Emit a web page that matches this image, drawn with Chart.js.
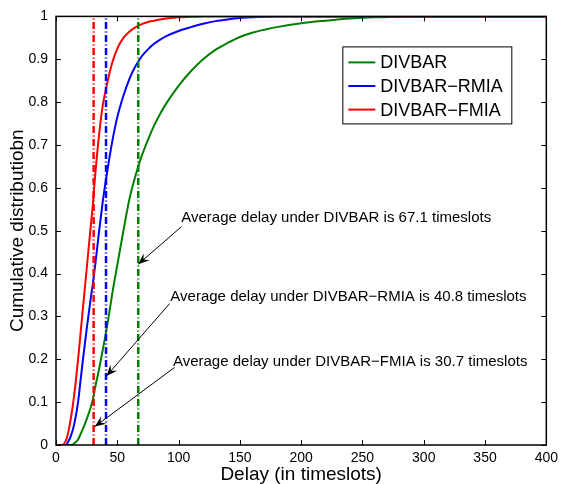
<!DOCTYPE html>
<html>
<head>
<meta charset="utf-8">
<script src="https://cdn.jsdelivr.net/npm/chart.js@4"></script>
<style>
  body { margin: 0; background: #fff; }
  canvas { display: block; }
</style>
</head>
<body>
<canvas id="cdf" width="563" height="484"></canvas>
<script>
// delay grid (timeslots) and CDF values
const delayX = [0, 5, 8, 10, 12, 15, 18, 20, 22, 25, 28, 30, 32, 35, 38, 40, 43, 46, 50, 55,
  60, 65, 70, 75, 80, 85, 90, 100, 110, 120, 130, 140, 150, 160, 170, 180, 200, 220, 240, 260,
  280, 300, 350, 400];
const divbarCdf = [0, 0, 0, 0, 0, 0.004, 0.013, 0.025, 0.038, 0.06, 0.085, 0.105, 0.135, 0.175, 0.22,
  0.25, 0.3, 0.355, 0.42, 0.5, 0.575, 0.63, 0.675, 0.712, 0.745, 0.773, 0.797, 0.838, 0.872, 0.9,
  0.922, 0.938, 0.952, 0.962, 0.969, 0.975, 0.984, 0.99, 0.995, 0.998, 0.999, 1, 1, 1];
const rmiaCdf = [0, 0, 0, 0.008, 0.02, 0.05, 0.1, 0.15, 0.2, 0.27, 0.335, 0.375, 0.42, 0.495, 0.565,
  0.605, 0.66, 0.71, 0.765, 0.815, 0.855, 0.885, 0.907, 0.923, 0.936, 0.946, 0.954, 0.966, 0.975, 0.983,
  0.989, 0.993, 0.996, 0.998, 0.999, 0.9995, 1, 1, 1, 1, 1, 1, 1, 1];
const fmiaCdf = [0, 0, 0.01, 0.03, 0.06, 0.12, 0.2, 0.26, 0.32, 0.41, 0.5, 0.56, 0.63, 0.72, 0.79,
  0.82, 0.86, 0.893, 0.925, 0.95, 0.965, 0.975, 0.982, 0.987, 0.99, 0.993, 0.995, 0.998, 0.999, 1,
  1, 1, 1, 1, 1, 1, 1, 1, 1, 1, 1, 1, 1, 1];

const seriesNames = ['DIVBAR', 'DIVBAR\u2212RMIA', 'DIVBAR\u2212FMIA'];
const averageDelay = [67.1, 40.8, 30.7];
const xTicks = [0, 50, 100, 150, 200, 250, 300, 350, 400];
const yTicks = [0, 0.1, 0.2, 0.3, 0.4, 0.5, 0.6, 0.7, 0.8, 0.9, 1];
const yTickLabels = ['0', '0.1', '0.2', '0.3', '0.4', '0.5', '0.6', '0.7', '0.8', '0.9', '1'];

const colors = ['#008000', '#0000ff', '#ff0000'];
const FONT = '"Liberation Sans", Arial, Helvetica, sans-serif';

// text + arrow annotations, placed in data coordinates
const notes = [
  { text: 'Average delay under DIVBAR is 67.1 timeslots', at: [102.2, 0.530], tail: [102.2, 0.509], tip: [67.1, 0.422] },
  { text: 'Average delay under DIVBAR\u2212RMIA is 40.8 timeslots', at: [93.3, 0.345], tail: [92.7, 0.330], tip: [41.2, 0.161] },
  { text: 'Average delay under DIVBAR\u2212FMIA is 30.7 timeslots', at: [95.4, 0.193], tail: [96.7, 0.181], tip: [31.7, 0.043] }
];

const curves = [divbarCdf, rmiaCdf, fmiaCdf].map((vals, i) => ({
  label: seriesNames[i],
  data: delayX.map((x, j) => ({ x: x, y: vals[j] })),
  borderColor: colors[i],
  borderWidth: 2,
  pointRadius: 0,
  fill: false,
  cubicInterpolationMode: 'monotone',
  order: 3 - i
}));

const avgLines = averageDelay.map((d, i) => ({
  label: 'avg ' + seriesNames[i],
  data: [{ x: d, y: 0 }, { x: d, y: 1 }],
  borderColor: colors[i],
  borderWidth: 2.5,
  borderDash: [7, 2.5, 1, 2.5],
  pointRadius: 0,
  fill: false,
  order: 0
}));

// box frame with inward ticks on all four sides (matlab style)
const frame = {
  id: 'frame',
  afterDatasetsDraw(chart) {
    const { ctx, chartArea: a, scales: { x, y } } = chart;
    ctx.save();
    ctx.strokeStyle = '#000';
    ctx.lineWidth = 1;
    ctx.beginPath();
    x.ticks.forEach(t => {
      const px = Math.round(x.getPixelForValue(t.value)) + 0.5;
      ctx.moveTo(px, a.bottom); ctx.lineTo(px, a.bottom - 5);
      ctx.moveTo(px, a.top); ctx.lineTo(px, a.top + 5);
    });
    y.ticks.forEach(t => {
      const py = Math.round(y.getPixelForValue(t.value)) + 0.5;
      ctx.moveTo(a.left, py); ctx.lineTo(a.left + 5, py);
      ctx.moveTo(a.right, py); ctx.lineTo(a.right - 5, py);
    });
    ctx.stroke();
    ctx.lineWidth = 1.5;
    ctx.strokeRect(a.left, a.top, a.right - a.left, a.bottom - a.top);
    ctx.restore();
  }
};

function drawArrow(ctx, x0, y0, x1, y1) {
  const ang = Math.atan2(y1 - y0, x1 - x0);
  ctx.beginPath();
  ctx.moveTo(x0, y0);
  ctx.lineTo(x1, y1);
  ctx.stroke();
  ctx.save();
  ctx.translate(x1, y1);
  ctx.rotate(ang);
  ctx.beginPath();
  ctx.moveTo(0, 0);
  ctx.lineTo(-11, -4.5);
  ctx.lineTo(-7, 0);
  ctx.lineTo(-11, 4.5);
  ctx.closePath();
  ctx.fill();
  ctx.restore();
}

const extras = {
  id: 'extras',
  afterDraw(chart) {
    const { ctx, chartArea: a, scales: { x, y } } = chart;
    ctx.save();

    // annotations
    ctx.fillStyle = '#000';
    ctx.strokeStyle = '#000';
    ctx.lineWidth = 1;
    ctx.font = '15px ' + FONT;
    ctx.textAlign = 'left';
    ctx.textBaseline = 'middle';
    notes.forEach(n => {
      ctx.fillText(n.text, x.getPixelForValue(n.at[0]), y.getPixelForValue(n.at[1]));
      drawArrow(ctx, x.getPixelForValue(n.tail[0]), y.getPixelForValue(n.tail[1]),
        x.getPixelForValue(n.tip[0]), y.getPixelForValue(n.tip[1]));
    });

    // legend box
    const bx = a.right - 204, by = a.top + 30, bw = 169, bh = 77;
    ctx.fillStyle = '#fff';
    ctx.fillRect(bx, by, bw, bh);
    ctx.strokeStyle = '#000';
    ctx.lineWidth = 1;
    ctx.strokeRect(bx + 0.5, by + 0.5, bw, bh);
    ctx.font = '18px ' + FONT;
    chart.data.datasets.slice(0, 3).forEach((ds, i) => {
      const ry = by + 16 + i * 23.6;
      ctx.strokeStyle = ds.borderColor;
      ctx.lineWidth = 2;
      ctx.beginPath();
      ctx.moveTo(bx + 6, ry);
      ctx.lineTo(bx + 33, ry);
      ctx.stroke();
      ctx.fillStyle = '#000';
      ctx.fillText(ds.label, bx + 38, ry + 1);
    });
    ctx.restore();
  }
};

new Chart(document.getElementById('cdf'), {
  type: 'line',
  data: { datasets: curves.concat(avgLines) },
  options: {
    responsive: false,
    animation: false,
    layout: { padding: { left: 0, right: 15, top: 15, bottom: 0 } },
    plugins: {
      legend: { display: false },
      tooltip: { enabled: false }
    },
    scales: {
      x: {
        type: 'linear',
        min: 0,
        max: 400,
        afterFit: s => { s.height = 39; },
        afterBuildTicks: s => { s.ticks = xTicks.map(v => ({ value: v })); },
        grid: { display: false, drawTicks: false },
        border: { display: false },
        ticks: { color: '#000', font: { family: FONT, size: 14 }, padding: 5, maxRotation: 0, autoSkip: false },
        title: { display: true, text: 'Delay (in timeslots)', color: '#000', font: { family: FONT, size: 19 }, padding: { top: 0, bottom: -2 } }
      },
      y: {
        type: 'linear',
        min: 0,
        max: 1,
        afterFit: s => { s.width = 56; },
        afterBuildTicks: s => { s.ticks = yTicks.map(v => ({ value: v })); },
        grid: { display: false, drawTicks: false },
        border: { display: false },
        ticks: {
          color: '#000',
          font: { family: FONT, size: 14 },
          padding: 8,
          autoSkip: false,
          callback: (v, i) => yTickLabels[i]
        },
        title: { display: true, text: 'Cumulative distributiobn', color: '#000', font: { family: FONT, size: 19 }, padding: { top: 6, bottom: 0 } }
      }
    }
  },
  plugins: [frame, extras]
});
</script>
</body>
</html>
